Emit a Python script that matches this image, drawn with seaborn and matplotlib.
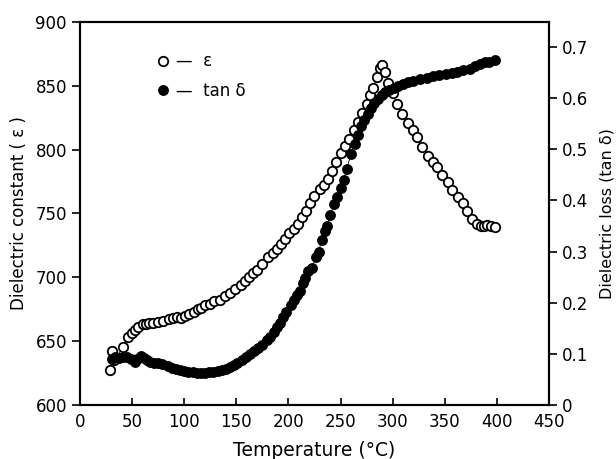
# Dielectric constant and loss vs temperature

import matplotlib
matplotlib.use('Agg')
import matplotlib.pyplot as plt
import seaborn as sns
import pandas as pd

# dielectric constant (open circles)
temp_eps = [29, 31, 33, 41, 46, 50, 53, 56, 60, 63, 66, 70, 75, 80, 85, 89, 93, 97, 101,
            105, 109, 113, 116, 120, 125, 129, 134, 139, 144, 149, 154, 158, 162, 166,
            170, 175, 180, 185, 189, 193, 197, 201, 205, 209, 213, 217, 221, 225, 230,
            234, 238, 242, 246, 250, 254, 258, 263, 267, 271, 275, 278, 281, 285, 288,
            290, 293, 296, 300, 304, 309, 315, 320, 323, 328, 334, 339, 343, 347, 353,
            357, 363, 368, 371, 376, 381, 385, 388, 391, 394, 398]
eps = [627, 642, 635, 645, 653, 656, 659, 661, 663, 663, 664, 664, 665, 666, 667, 668, 669,
       668, 670, 671, 673, 675, 676, 678, 679, 681, 682, 685, 688, 691, 694, 697, 700,
       703, 706, 710, 716, 719, 722, 726, 730, 735, 738, 742, 747, 752, 758, 764, 769,
       772, 777, 783, 790, 797, 803, 808, 815, 822, 829, 836, 843, 848, 857, 864, 866,
       861, 852, 844, 836, 828, 821, 815, 810, 802, 795, 790, 786, 780, 775, 768, 763,
       758, 752, 746, 742, 740, 740, 741, 740, 739]

# dielectric loss (filled circles)
temp_tan = [31, 34, 37, 41, 45, 49, 53, 55, 58, 61, 64, 67, 71, 75, 79, 84, 88, 92, 96,
            100, 104, 108, 112, 116, 120, 124, 128, 132, 136, 140, 144, 148, 151, 155,
            159, 163, 167, 171, 175, 179, 182, 186, 189, 192, 195, 198, 202, 205, 208,
            211, 214, 216, 219, 223, 226, 229, 232, 235, 237, 240, 244, 247, 250, 253,
            256, 260, 264, 267, 270, 273, 276, 279, 282, 286, 290, 293, 297, 301, 305,
            310, 315, 320, 326, 333, 339, 345, 351, 357, 362, 368, 374, 379, 384, 389,
            393, 398]
tan_d = [0.090, 0.093, 0.092, 0.093, 0.094, 0.090, 0.083, 0.090, 0.095, 0.092, 0.087,
         0.084, 0.082, 0.081, 0.079, 0.076, 0.073, 0.071, 0.068, 0.067, 0.065, 0.064,
         0.063, 0.063, 0.063, 0.064, 0.065, 0.066, 0.068, 0.071, 0.074, 0.078, 0.082,
         0.087, 0.093, 0.100, 0.106, 0.112, 0.118, 0.126, 0.133, 0.142, 0.152, 0.160,
         0.172, 0.182, 0.196, 0.205, 0.215, 0.222, 0.238, 0.248, 0.262, 0.268, 0.290,
         0.300, 0.323, 0.340, 0.350, 0.372, 0.392, 0.407, 0.425, 0.440, 0.462, 0.490,
         0.510, 0.528, 0.545, 0.557, 0.570, 0.580, 0.590, 0.598, 0.606, 0.612, 0.616,
         0.620, 0.624, 0.628, 0.632, 0.634, 0.638, 0.640, 0.643, 0.645, 0.647, 0.650,
         0.652, 0.655, 0.658, 0.662, 0.666, 0.670, 0.671, 0.675]

df_eps = pd.DataFrame({'Temperature': temp_eps, 'eps': eps})
df_tan = pd.DataFrame({'Temperature': temp_tan, 'tan': tan_d})

sns.set_style('ticks')
plt.rcParams['font.family'] = ['DejaVu Sans']
plt.rcParams['text.color'] = 'black'
plt.rcParams['axes.labelcolor'] = 'black'
plt.rcParams['xtick.color'] = 'black'
plt.rcParams['ytick.color'] = 'black'
plt.rcParams['axes.edgecolor'] = 'black'

fig, ax1 = plt.subplots(figsize=(6.16, 4.59), dpi=100)
fig.subplots_adjust(left=0.13, right=0.891, top=0.952, bottom=0.118)
ax2 = ax1.twinx()

sns.lineplot(data=df_eps, x='Temperature', y='eps', ax=ax1, sort=False, estimator=None,
             color='black', linewidth=0.6, marker='o', markersize=6.8,
             markerfacecolor='white', markeredgecolor='black', markeredgewidth=1.3,
             label='—  ε')
sns.lineplot(data=df_tan, x='Temperature', y='tan', ax=ax2, sort=False, estimator=None,
             color='black', linewidth=0.6, marker='o', markersize=6.8,
             markerfacecolor='black', markeredgecolor='black', markeredgewidth=1.0,
             label='—  tan δ')

ax1.set_xlim(0, 450)
ax1.set_ylim(600, 900)
ax2.set_ylim(0, 0.749)
ax1.set_xticks(range(0, 451, 50))
ax1.set_yticks(range(600, 901, 50))
ax2.set_yticks([0, 0.1, 0.2, 0.3, 0.4, 0.5, 0.6, 0.7])
ax2.set_yticklabels(['0', '0.1', '0.2', '0.3', '0.4', '0.5', '0.6', '0.7'])

ax1.set_xlabel('Temperature (°C)', fontsize=13.5, labelpad=7)
ax1.set_ylabel('Dielectric constant ( ε )', fontsize=12, labelpad=5)
ax2.set_ylabel('Dielectric loss (tan δ)', fontsize=11.5, labelpad=8)

ax1.tick_params(axis='x', direction='in', length=5, width=1.2, labelsize=12, pad=6)
ax1.tick_params(axis='y', direction='out', length=6, width=1.2, labelsize=12)
ax2.tick_params(axis='y', direction='out', length=6, width=1.2, labelsize=12)
for ax in (ax1, ax2):
    for s in ax.spines.values():
        s.set_linewidth(1.5)
        s.set_visible(True)

# legend
h1, l1 = ax1.get_legend_handles_labels()
h2, l2 = ax2.get_legend_handles_labels()
ax2.get_legend().remove()
ax1.get_legend().remove()
ax2.legend(h1 + h2, l1 + l2, loc='upper left', bbox_to_anchor=(0.145, 0.96),
           frameon=False, handlelength=0, handletextpad=0.8, fontsize=12,
           labelspacing=0.7)

plt.savefig('out.png', dpi=100)
